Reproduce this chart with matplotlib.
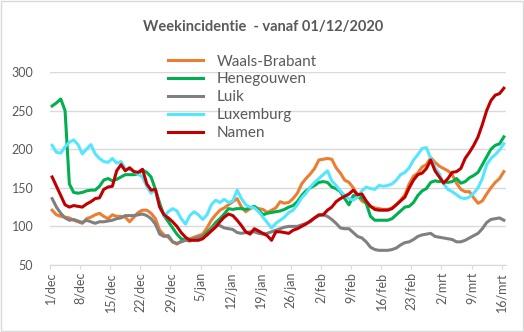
import matplotlib
matplotlib.use("Agg")
import matplotlib.pyplot as plt
from matplotlib.patches import Rectangle
import numpy as np

# dagelijkse weekincidentie per provincie, 1 dec 2020 t/m 16 mrt 2021
waals_brabant = [121, 115, 113, 112, 111, 108, 106, 104, 110, 112, 115, 117, 113, 110, 115, 113,
                 113, 112, 106, 112, 118, 121, 121, 117, 110, 95, 89, 86, 80, 77, 81, 82,
                 84, 86, 88, 90, 98, 108, 115, 121, 124, 128, 132, 136, 125, 119, 123, 125,
                 123, 122, 118, 121, 124, 132, 130, 131, 136, 143, 155, 162, 168, 175, 186, 187,
                 188, 187, 176, 169, 160, 157, 150, 140, 133, 130, 126, 124, 123, 122, 122, 124,
                 128, 134, 141, 155, 165, 169, 177, 180, 189, 183, 178, 175, 172, 167, 156, 148,
                 145, 145, 137, 130, 133, 142, 150, 157, 162, 171]
henegouwen = [256, 260, 265, 250, 155, 144, 143, 144, 146, 147, 147, 152, 160, 162, 159, 161,
              164, 167, 167, 167, 168, 173, 170, 164, 148, 130, 114, 106, 98, 90, 84, 82,
              83, 83, 85, 87, 92, 98, 105, 110, 116, 123, 122, 123, 123, 122, 124, 126,
              121, 115, 117, 118, 119, 120, 122, 125, 127, 132, 140, 146, 150, 153, 157, 158,
              157, 151, 149, 145, 136, 128, 140, 139, 137, 130, 113, 108, 108, 108, 108, 110,
              115, 120, 125, 126, 131, 140, 146, 149, 157, 159, 158, 158, 157, 158, 162, 156,
              158, 163, 166, 170, 180, 190, 200, 205, 207, 216]
luik = [136, 125, 117, 111, 108, 109, 107, 105, 108, 106, 104, 106, 106, 107, 108, 110,
        111, 114, 114, 114, 115, 116, 114, 110, 103, 90, 87, 88, 80, 78, 80, 82,
        81, 84, 86, 87, 89, 96, 102, 101, 98, 97, 96, 92, 91, 92, 93, 93,
        91, 90, 91, 93, 95, 97, 99, 100, 100, 100, 102, 104, 106, 111, 114, 115,
        113, 109, 104, 98, 97, 97, 92, 87, 85, 80, 73, 70, 69, 69, 69, 70,
        72, 76, 79, 80, 83, 87, 89, 90, 91, 87, 86, 85, 84, 83, 80, 80,
        82, 85, 88, 91, 97, 105, 109, 110, 111, 108]
luxemburg = [205, 196, 195, 203, 209, 212, 206, 194, 200, 206, 194, 188, 184, 183, 188, 182,
             184, 174, 174, 171, 168, 164, 152, 143, 148, 125, 113, 119, 123, 120, 110, 103,
             114, 119, 115, 109, 115, 128, 134, 131, 135, 131, 133, 147, 136, 128, 125, 124,
             119, 112, 105, 98, 104, 108, 112, 118, 121, 128, 137, 143, 151, 157, 162, 167,
             172, 159, 153, 146, 140, 136, 134, 138, 146, 151, 149, 148, 153, 152, 153, 155,
             160, 167, 170, 176, 186, 193, 201, 202, 188, 176, 168, 155, 148, 145, 141, 137,
             136, 138, 143, 150, 162, 180, 188, 193, 199, 207]
namen = [164, 152, 140, 128, 125, 127, 126, 125, 129, 132, 136, 137, 148, 151, 152, 172,
         180, 172, 176, 171, 170, 174, 155, 147, 148, 125, 115, 111, 106, 100, 92, 86,
         82, 82, 82, 84, 89, 94, 99, 106, 112, 116, 114, 108, 101, 93, 90, 97,
         94, 91, 88, 82, 93, 93, 92, 91, 95, 97, 100, 103, 107, 111, 115, 115,
         121, 125, 132, 136, 139, 142, 147, 141, 142, 133, 126, 122, 121, 121, 121, 123,
         128, 133, 138, 150, 160, 167, 169, 175, 186, 172, 164, 156, 162, 170, 171, 175,
         188, 196, 205, 216, 232, 250, 263, 270, 272, 279]

reeksen = ["Waals-Brabant", "Henegouwen", "Luik", "Luxemburg", "Namen"]
kleuren = ["#ED7D31", "#00B050", "#808080", "#55E6FF", "#C00000"]
tick_labels = ["1/dec", "8/dec", "15/dec", "22/dec", "29/dec", "5/jan", "12/jan", "19/jan",
               "26/jan", "2/feb", "9/feb", "16/feb", "23/feb", "2/mrt", "9/mrt", "16/mrt"]

plt.rcParams['font.family'] = ['Lato', 'DejaVu Sans']
tekst = "#595959"
raster = "#D9D9D9"

fig = plt.figure(figsize=(5.24, 3.32), dpi=100)
ax = fig.add_axes([50 / 524, 1 - 265 / 332, 456 / 524, 193 / 332])

dagen = np.arange(len(namen)) + 0.5
for naam, kleur, waarden in zip(reeksen, kleuren,
                                [waals_brabant, henegouwen, luik, luxemburg, namen]):
    ax.plot(dagen, waarden, color=kleur, lw=2.2, label=naam)

ax.set_xlim(0, len(namen))
ax.set_ylim(50, 300)
ax.set_yticks(range(50, 301, 50))
ax.set_xticks(np.arange(0, len(namen), 7))
ax.set_xticklabels(tick_labels, rotation=90)
ax.grid(axis='y', color=raster, lw=1)
ax.set_axisbelow(True)
for s in ['top', 'right', 'left']:
    ax.spines[s].set_visible(False)
ax.spines['bottom'].set_color(raster)
ax.tick_params(axis='y', length=0, pad=12, labelsize=9, labelcolor=tekst)
ax.tick_params(axis='x', length=3, color=raster, pad=2, labelsize=9, labelcolor=tekst)

fig.text(0.502, 1 - 27 / 332, "Weekincidentie  - vanaf 01/12/2020", ha='center', va='center',
         fontsize=10.5, fontweight='bold', color=tekst)

leg = ax.legend(loc='upper left', bbox_to_anchor=(160 / 524, 1 - 47 / 332),
                bbox_transform=fig.transFigure, frameon=False, fontsize=11,
                handlelength=2.3, handletextpad=0.9, labelspacing=0.25, borderpad=0)
for t in leg.get_texts():
    t.set_color(tekst)

fig.add_artist(Rectangle((0.001, 0.002), 0.997, 0.995, transform=fig.transFigure,
                         fill=False, edgecolor=raster, lw=1))

fig.savefig("out.png", dpi=100)
